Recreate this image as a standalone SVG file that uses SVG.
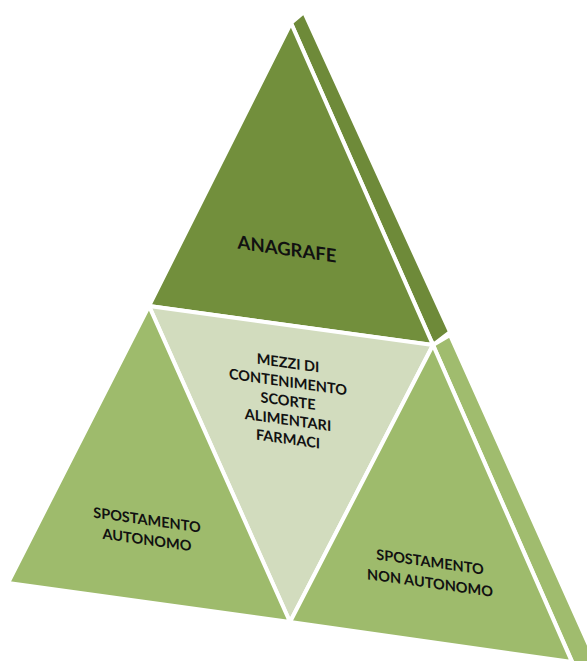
<svg xmlns="http://www.w3.org/2000/svg" width="587" height="661" viewBox="0 0 587 661">
<style>
.face{stroke:#ffffff;stroke-width:4;stroke-linejoin:miter}
.dark{fill:#728F3C}
.darkside{fill:#6E8A39}
.mid{fill:#9EBB6C}
.midside{fill:#A0BC6E}
.light{fill:#D2DCBE}
.lbl{font-family:Lato,"Open Sans","Liberation Sans",sans-serif;font-weight:bold;fill:#111111;text-anchor:middle}
</style>
<rect width="587" height="661" fill="#ffffff"/>
<g id="side-top"><polygon class="face darkside" points="291,23 304,12 450,332 433,345"/></g>
<g id="side-right"><polygon class="face midside" points="433,345 450,335 601,672 578,675"/></g>
<g id="anagrafe">
<polygon class="face dark" points="291,23 149,306 433,345"/>
<text class="lbl" font-size="18.5" transform="translate(287,249) skewY(8)" y="6.5">ANAGRAFE</text>
</g>
<g id="mezzi">
<polygon class="face light" points="149,306 433,345 290,622"/>
<g transform="translate(288,401) skewY(8)">
<text class="lbl" font-size="14.5" y="-33">MEZZI DI</text>
<text class="lbl" font-size="14.5" y="-14">CONTENIMENTO</text>
<text class="lbl" font-size="14.5" y="5">SCORTE</text>
<text class="lbl" font-size="14.5" y="24">ALIMENTARI</text>
<text class="lbl" font-size="14.5" y="43">FARMACI</text>
</g>
</g>
<g id="spostamento-autonomo">
<polygon class="face mid" points="149,306 8,583 290,622"/>
<g transform="translate(147,530) skewY(8)">
<text class="lbl" font-size="14.5" y="-5">SPOSTAMENTO</text>
<text class="lbl" font-size="14.5" y="15">AUTONOMO</text>
</g>
</g>
<g id="spostamento-non-autonomo">
<polygon class="face mid" points="433,345 290,622 572,662"/>
<g transform="translate(430,572) skewY(8)">
<text class="lbl" font-size="14.5" y="-5">SPOSTAMENTO</text>
<text class="lbl" font-size="14.5" y="16">NON AUTONOMO</text>
</g>
</g>
<g id="connectors"/>
</svg>
